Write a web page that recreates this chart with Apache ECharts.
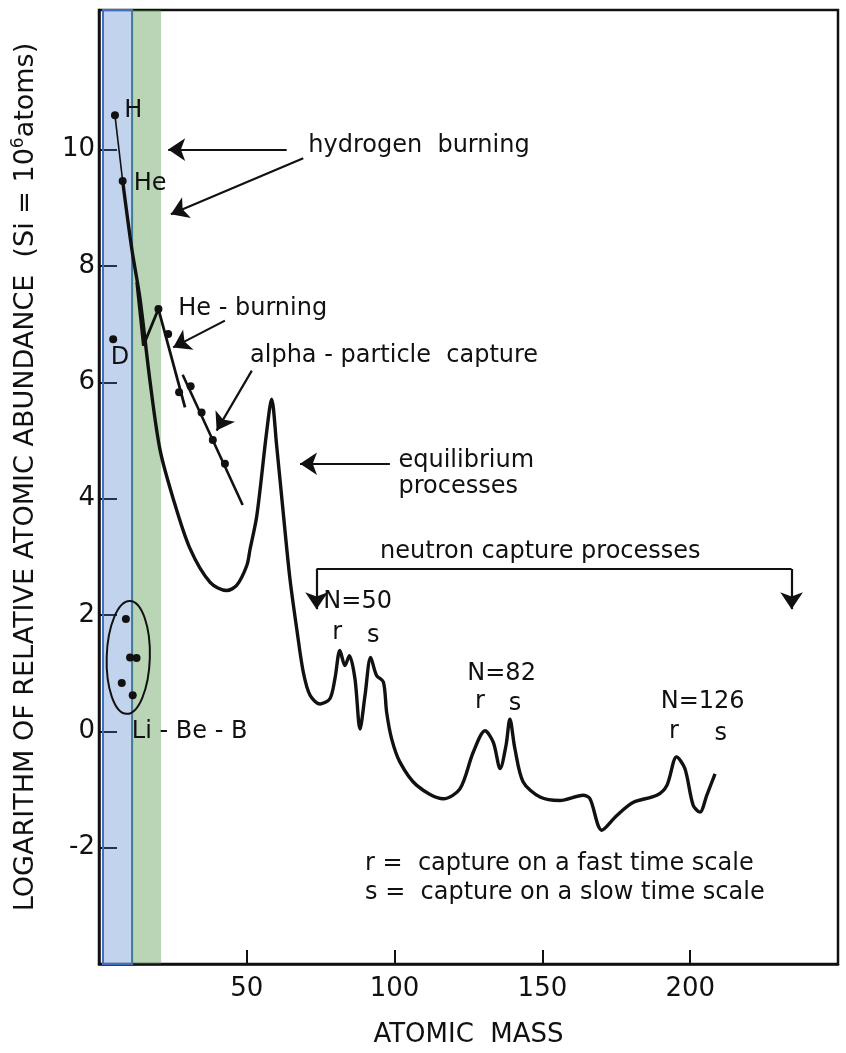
<!DOCTYPE html>
<html>
<head>
<meta charset="utf-8">
<title>Relative atomic abundance vs atomic mass</title>
<script src="https://cdn.jsdelivr.net/npm/echarts@6/dist/echarts.min.js"></script>
<style>
  html, body { margin: 0; padding: 0; background: #fff; }
  #chart { width: 846px; height: 1053px; }
</style>
</head>
<body>
<div id="chart"></div>
<script>
// main abundance curve (atomic mass, log abundance)
const massMain = [8.0, 11.1, 13.9, 17.3, 20.6, 25.1, 30.8, 37.6, 43.2, 46.6, 50.0, 51.1, 53.4, 56.7, 58.4,
  60.1, 62.3, 64.6, 66.9, 69.1, 71.4, 74.8, 78.1, 79.8, 81.5, 83.2, 84.7, 86.6, 88.3, 90.0, 91.9, 93.9,
  96.2, 97.3, 99.0, 101.8, 107.5, 116.5, 122.1, 126.6, 130.6, 133.4, 135.7, 137.7, 139.0, 140.7, 143.5,
  149.2, 155.9, 163.8, 166.1, 170.1, 175.1, 180.8, 188.7, 192.1, 195.4, 198.2, 201.0, 203.3, 205.6, 208.4];
const logAbundMain = [9.46, 8.29, 7.43, 6.0, 4.85, 4.0, 3.14, 2.56, 2.42, 2.51, 2.85, 3.13, 3.71, 5.14, 5.71,
  4.91, 3.77, 2.62, 1.76, 1.02, 0.62, 0.47, 0.56, 0.90, 1.39, 1.13, 1.30, 0.90, 0.04, 0.62, 1.27, 0.96,
  0.85, 0.33, -0.13, -0.53, -0.93, -1.16, -0.99, -0.36, 0.01, -0.19, -0.64, -0.24, 0.21, -0.30, -0.87,
  -1.13, -1.19, -1.10, -1.16, -1.70, -1.45, -1.22, -1.10, -0.93, -0.44, -0.64, -1.27, -1.39, -1.10, -0.73];

// H -> He segment
const hheMass = [5.4, 8.0];
const hheAbund = [10.59, 9.46];

// dip up to the carbon peak
const vMass = [12.75, 15.0, 20.1];
const vAbund = [7.72, 6.63, 7.26];

// He-burning chain and alpha-particle chain
const heBurnMass = [20.1, 29.1];
const heBurnAbund = [7.26, 5.57];
const alphaMass = [28.3, 48.6];
const alphaAbund = [6.13, 3.89];

// measured points (H, He, D, C, He-burning, alpha, Li-Be-B)
const dotMass = [5.4, 8.0, 4.8, 20.1, 23.4, 27.1, 31.0, 34.7, 38.5, 42.6, 9.1, 10.5, 12.7, 7.7, 11.4];
const dotAbund = [10.59, 9.46, 6.74, 7.26, 6.83, 5.83, 5.93, 5.48, 5.01, 4.60, 1.93, 1.27, 1.26, 0.83, 0.62];

// tick labels
const xTicks = [50, 100, 150, 200];
const yTicks = [-2, 0, 2, 4, 6, 8, 10];

// annotation arrows [from, to] in data units
const arrowCoords = [
  [[63.5, 10.0], [23.4, 10.0]],
  [[69.1, 9.85], [24.3, 8.89]],
  [[42.6, 7.06], [25.1, 6.60]],
  [[51.7, 6.20], [39.8, 5.17]],
  [[98.4, 4.60], [68.0, 4.60]],
  [[73.6, 2.79], [73.6, 2.10]],
  [[234.3, 2.79], [234.3, 2.10]]
];
const bracketCoords = [[[73.6, 2.79], [234.3, 2.79]]];

// text notes: [text, mass, logAbund, align]
const notes = [
  ['hydrogen  burning', 70.8, 10.07, 'left'],
  ['He - burning', 26.8, 7.26, 'left'],
  ['alpha - particle  capture', 51.1, 6.46, 'left'],
  ['equilibrium', 101.3, 4.65, 'left'],
  ['processes', 101.3, 4.20, 'left'],
  ['neutron capture processes', 95.1, 3.08, 'left'],
  ['N=50', 75.9, 2.22, 'left'],
  ['r', 80.6, 1.70, 'center'],
  ['s', 92.8, 1.65, 'center'],
  ['N=82', 136.2, 0.99, 'center'],
  ['r', 128.9, 0.50, 'center'],
  ['s', 140.7, 0.47, 'center'],
  ['N=126', 204.2, 0.50, 'center'],
  ['r', 194.5, -0.01, 'center'],
  ['s', 210.3, -0.04, 'center'],
  ['H', 11.6, 10.67, 'center'],
  ['He', 17.3, 9.41, 'center'],
  ['D', 7.1, 6.43, 'center'],
  ['Li - Be - B', 11.1, 0.0, 'left'],
  ['r =  capture on a fast time scale', 90.0, -2.28, 'left'],
  ['s =  capture on a slow time scale', 90.0, -2.77, 'left']
];

// Li-Be-B ellipse: centre and half-axes in data units
const ellCentre = [9.9, 1.27];
const ellHalf = [7.3, 0.97];

const FONT = '"DejaVu Sans", sans-serif';
const INK = '#111';
const zip = (xs, ys) => xs.map((x, i) => [x, ys[i]]);
const thin = (xs, ys, w) => ({
  type: 'line', data: zip(xs, ys), symbol: 'none', z: 3,
  lineStyle: { color: INK, width: w }
});

const chart = echarts.init(document.getElementById('chart'));

chart.setOption({
  animation: false,
  backgroundColor: '#fff',
  grid: { left: 99, right: 8, top: 10, bottom: 88, show: true, borderColor: INK, borderWidth: 2.5 },
  xAxis: {
    type: 'value', min: 0, max: 250,
    name: 'ATOMIC  MASS', nameLocation: 'middle', nameGap: 58,
    nameTextStyle: { fontSize: 26, fontFamily: FONT, color: INK },
    axisLine: { onZero: false, lineStyle: { color: INK, width: 2.5 } },
    axisTick: { inside: true, length: 14, customValues: xTicks, lineStyle: { color: INK, width: 2 } },
    axisLabel: { customValues: xTicks, fontSize: 26, fontFamily: FONT, color: INK, margin: 12 },
    splitLine: { show: false }
  },
  yAxis: {
    type: 'value', min: -4, max: 12.4,
    name: 'LOGARITHM OF RELATIVE ATOMIC ABUNDANCE  (Si = 10{sup|6}atoms)',
    nameLocation: 'middle', nameGap: 58,
    nameTextStyle: {
      fontSize: 27, fontFamily: FONT, color: INK, padding: [0, 0, 0, 20],
      rich: { sup: { fontSize: 17, fontFamily: FONT, color: INK, padding: [0, 0, 14, 0] } }
    },
    axisLine: { onZero: false, lineStyle: { color: INK, width: 2.5 } },
    axisTick: { inside: true, length: 18, customValues: yTicks, lineStyle: { color: INK, width: 2 } },
    axisLabel: { customValues: yTicks, fontSize: 26, fontFamily: FONT, color: INK, margin: 4 },
    splitLine: { show: false }
  },
  series: [
    {
      type: 'line', name: 'abundance', data: zip(massMain, logAbundMain),
      smooth: 0.3, symbol: 'none', z: 3, lineStyle: { color: INK, width: 3.4 }
    },
    thin(hheMass, hheAbund, 1.6),
    thin(vMass, vAbund, 2.8),
    thin(heBurnMass, heBurnAbund, 2.8),
    thin(alphaMass, alphaAbund, 2.6),
    {
      type: 'scatter', data: zip(dotMass, dotAbund), symbolSize: 8, z: 4,
      itemStyle: { color: INK, opacity: 1 }
    },
    {
      type: 'lines', coordinateSystem: 'cartesian2d', z: 4,
      data: arrowCoords.map(c => ({ coords: c })),
      symbol: ['none', 'arrow'], symbolSize: [0, 17],
      lineStyle: { color: INK, width: 2.2, opacity: 1, curveness: 0 }
    },
    {
      type: 'lines', coordinateSystem: 'cartesian2d', z: 4,
      data: bracketCoords.map(c => ({ coords: c })),
      symbol: ['none', 'none'],
      lineStyle: { color: INK, width: 2.2, opacity: 1 }
    },
    {
      // translucent element bands laid over the figure
      type: 'line', data: [], z: 20, silent: true,
      markArea: {
        silent: true,
        label: { show: false },
        data: [
          [{ xAxis: 1.35, yAxis: -4, itemStyle: { color: 'rgba(70,125,200,0.33)', borderColor: '#3f6fc2', borderWidth: 2 } },
           { xAxis: 11.2, yAxis: 12.4 }],
          [{ xAxis: 11.2, yAxis: -4, itemStyle: { color: 'rgba(70,145,60,0.38)', borderWidth: 0 } },
           { xAxis: 21.0, yAxis: 12.4 }]
        ]
      }
    }
  ]
});

// annotations placed through the grid's own scales
const px = p => chart.convertToPixel({ gridIndex: 0 }, p);
const c = px(ellCentre);
const ex = px([ellCentre[0] + ellHalf[0], ellCentre[1] + ellHalf[1]]);
const elements = notes.map(([t, x, y, align]) => {
  const p = px([x, y]);
  return {
    type: 'text', x: p[0], y: p[1], z: 5, silent: true,
    style: { text: t, fontSize: 24, fontFamily: FONT, fill: INK, align: align, verticalAlign: 'middle' }
  };
});
elements.push({
  type: 'ellipse', z: 5, silent: true, rotation: -0.03, x: c[0], y: c[1],
  shape: { cx: 0, cy: 0, rx: ex[0] - c[0], ry: c[1] - ex[1] },
  style: { fill: 'none', stroke: INK, lineWidth: 2 }
});
chart.setOption({ graphic: { elements: elements } });
</script>
</body>
</html>
